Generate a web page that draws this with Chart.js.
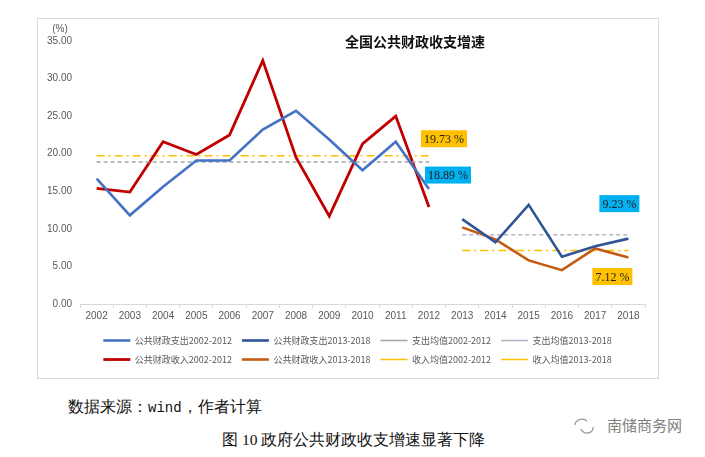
<!DOCTYPE html>
<html>
<head>
<meta charset="utf-8">
<script src="https://cdn.jsdelivr.net/npm/chart.js"></script>
<style>
  body { margin: 0; background: #fff; width: 705px; height: 457px; position: relative; overflow: hidden; }
  #box { position: absolute; left: 37px; top: 18px; width: 620px; height: 359px; border: 1px solid #d9d9d9; }
  .src { position: absolute; left: 68px; top: 397px; font: 15.5px "Liberation Serif", serif; color: #111; white-space: nowrap; }
  .src span { font-family: "Liberation Mono", monospace; font-size: 14px; }
  .cap { position: absolute; left: 222px; top: 430px; font: 15.5px "Liberation Serif", serif; color: #111; white-space: nowrap; }
  .wm { position: absolute; left: 572px; top: 414px; font: 15px "Noto Sans CJK SC", sans-serif; color: #808080; white-space: nowrap; }
  .wm svg { vertical-align: -4px; margin-right: 11px; }
</style>
</head>
<body>
<div id="box"><canvas id="chart" width="620" height="359"></canvas></div>
<div class="src">数据来源：<span>wind</span>，作者计算</div>
<div class="cap">图 10 政府公共财政收支增速显著下降</div>
<div class="wm"><svg width="24" height="20" viewBox="0 0 24 20"><path d="M3 10a7 6 0 0 1 12-4" fill="none" stroke="#999" stroke-width="1.3"/><path d="M9 14a6 5 0 0 0 12-2" fill="none" stroke="#999" stroke-width="1.3"/></svg>南储商务网</div>
<script>
// -------- data --------
const years = ['2002', '2003', '2004', '2005', '2006', '2007', '2008', '2009', '2010',
  '2011', '2012', '2013', '2014', '2015', '2016', '2017', '2018'];
const spend0212 = [16.7, 11.8, 15.6, 19.1, 19.1, 23.2, 25.7, 21.9, 17.8, 21.6, 15.3];
const spend1318 = [11.3, 8.2, 13.2, 6.3, 7.7, 8.7];
const income0212 = [15.4, 14.9, 21.6, 19.9, 22.5, 32.4, 19.5, 11.7, 21.3, 25.0, 12.9];
const income1318 = [10.2, 8.6, 5.8, 4.5, 7.4, 6.2];
const spendMean0212 = 18.89;
const spendMean1318 = 9.23;
const incomeMean0212 = 19.73;
const incomeMean1318 = 7.12;
const yTicks = [0, 5, 10, 15, 20, 25, 30, 35];

// split helpers: first period is 11 years, second is 6
const early = arr => [...arr, ...Array(years.length - arr.length).fill(null)];
const late = arr => [...Array(years.length - arr.length).fill(null), ...arr];
const flatEarly = v => years.map((y, i) => (i < spend0212.length ? v : null));
const flatLate = v => years.map((y, i) => (i >= spend0212.length ? v : null));

function series(label, data, color, width, dash) {
  return {
    label, data,
    borderColor: color, backgroundColor: color,
    borderWidth: width, borderDash: dash || [],
    pointRadius: 0, pointHoverRadius: 0,
    tension: 0, spanGaps: false
  };
}

const datasets = [
  series('公共财政支出2002-2012', early(spend0212), '#4472C4', 2.6),
  series('公共财政支出2013-2018', late(spend1318), '#2F5597', 2.6),
  series('支出均值2002-2012', flatEarly(spendMean0212), '#A5A5A5', 1.5, [4, 3]),
  series('支出均值2013-2018', flatLate(spendMean1318), '#B4B4C6', 1.5, [4, 3]),
  series('公共财政收入2002-2012', early(income0212), '#C00000', 2.8),
  series('公共财政收入2013-2018', late(income1318), '#C55A11', 2.6),
  series('收入均值2002-2012', flatEarly(incomeMean0212), '#FFC000', 1.5, [8, 4, 2, 4]),
  series('收入均值2013-2018', flatLate(incomeMean1318), '#FFC000', 1.5, [8, 4, 2, 4])
];

// -------- title, unit and value boxes --------
const extras = {
  id: 'extras',
  afterLayout(chart) {
    // legend in the original sits a bit right of centre
    chart.legend.left += 16;
    chart.legend.right += 16;
  },
  afterDraw(chart) {
    const { ctx, chartArea, scales: { x, y } } = chart;
    ctx.save();
    ctx.textAlign = 'center';
    ctx.textBaseline = 'middle';

    ctx.fillStyle = '#111';
    ctx.font = 'bold 14px "Noto Sans CJK SC", sans-serif';
    ctx.fillText('全国公共财政收支增速', chartArea.left + 335, chartArea.top + 1);

    ctx.fillStyle = '#595959';
    ctx.font = '10px "Liberation Sans", sans-serif';
    ctx.fillText('(%)', 22, 10);

    const boxes = [
      { v: incomeMean0212, at: '2012', dx: 15, dy: -17, bg: '#FFC000' },
      { v: spendMean0212, at: '2012', dx: 19, dy: 13, bg: '#00B0F0' },
      { v: spendMean1318, at: '2018', dx: -9, dy: -31, bg: '#00B0F0' },
      { v: incomeMean1318, at: '2018', dx: -16, dy: 26, bg: '#FFC000' }
    ];
    ctx.font = '12px "Liberation Serif", serif';
    boxes.forEach(b => {
      const txt = b.v.toFixed(2) + ' %';
      const cx = x.getPixelForValue(years.indexOf(b.at)) + b.dx;
      const cy = y.getPixelForValue(b.v) + b.dy;
      const w = ctx.measureText(txt).width + 6;
      const h = 17;
      ctx.fillStyle = b.bg;
      ctx.fillRect(cx - w / 2, cy - h / 2, w, h);
      ctx.fillStyle = '#222';
      ctx.fillText(txt, cx, cy + 1);
    });
    ctx.restore();
  }
};

new Chart(document.getElementById('chart'), {
  type: 'line',
  data: { labels: years, datasets },
  options: {
    responsive: false,
    animation: false,
    layout: { padding: { left: 0, right: 13, top: 22, bottom: 4 } },
    plugins: {
      title: { display: false },
      tooltip: { enabled: false },
      legend: {
        position: 'bottom',
        labels: {
          usePointStyle: true,
          pointStyle: 'line',
          pointStyleWidth: 27,
          padding: 10,
          color: '#595959',
          font: { size: 9, family: '"Noto Sans CJK SC", sans-serif' }
        }
      }
    },
    scales: {
      x: {
        offset: true,
        grid: { display: true, drawOnChartArea: false, offset: true, tickLength: 4, color: '#D9D9D9' },
        border: { display: true, color: '#D9D9D9' },
        ticks: { color: '#595959', padding: 2, maxRotation: 0, font: { size: 10, family: '"Liberation Sans", sans-serif' } },
        afterFit(scale) { scale.height = 22; }
      },
      y: {
        min: 0, max: 35,
        afterBuildTicks(scale) { scale.ticks = yTicks.map(v => ({ value: v })); },
        grid: { display: false },
        border: { display: false },
        ticks: {
          color: '#595959', padding: 0,
          font: { size: 10, family: '"Liberation Sans", sans-serif' },
          callback: v => Number(v).toFixed(2)
        },
        afterFit(scale) { scale.width = 42; }
      }
    }
  },
  plugins: [extras]
});
</script>
</body>
</html>
